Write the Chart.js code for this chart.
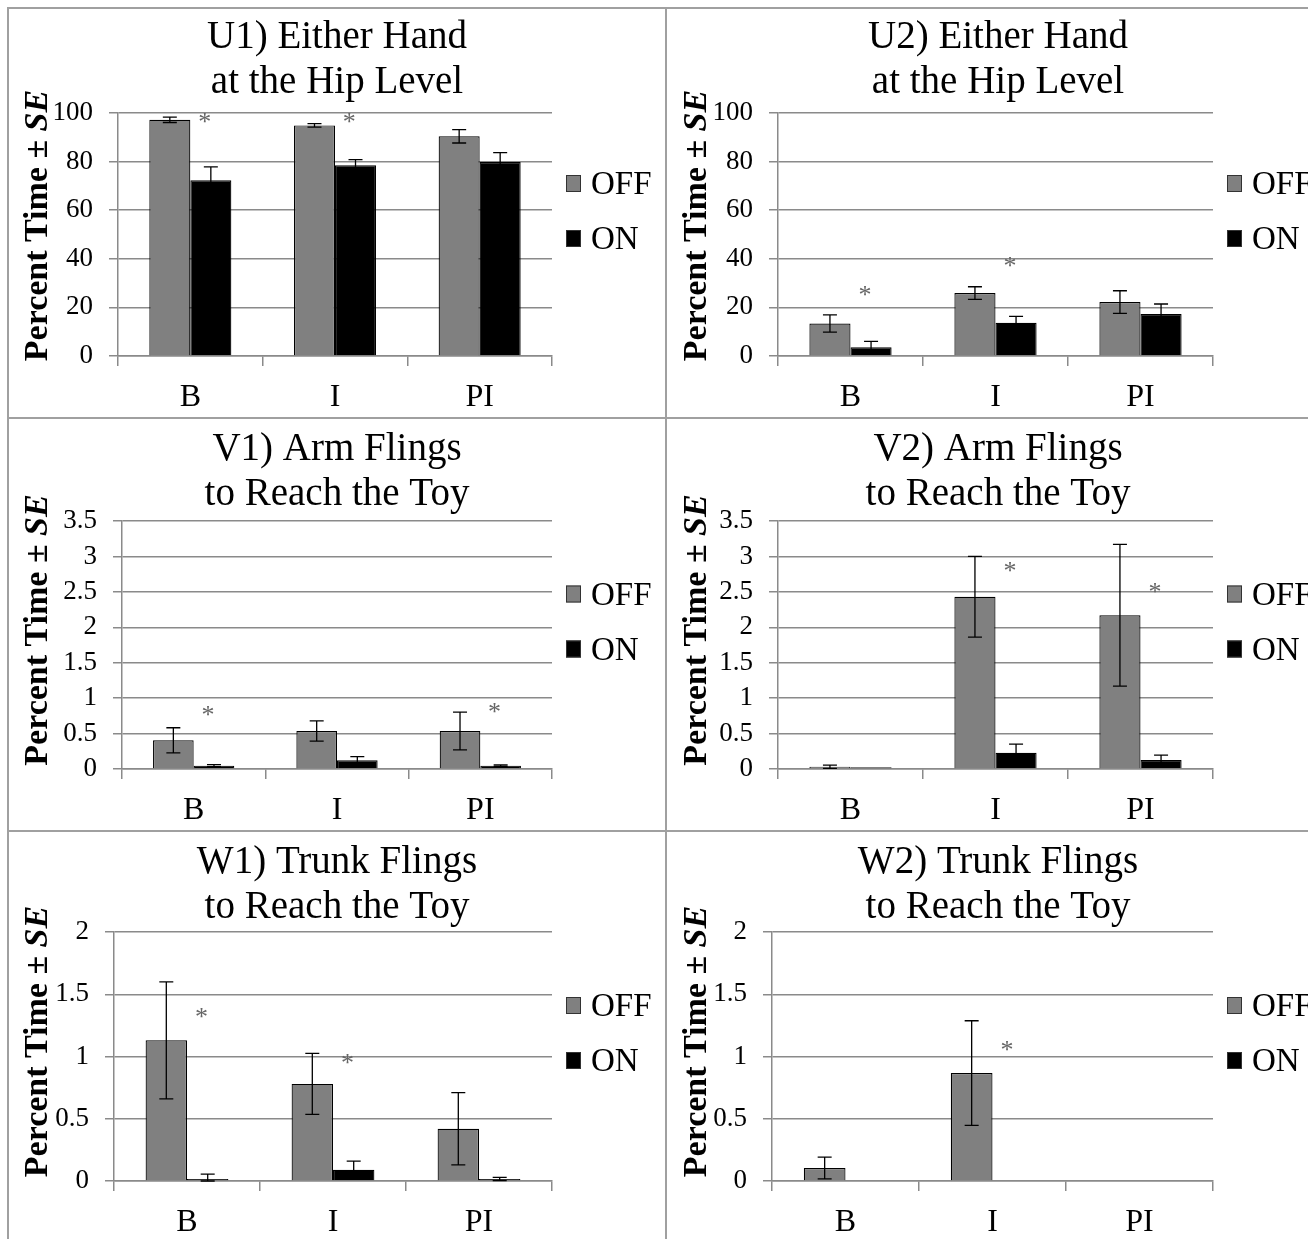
<!DOCTYPE html>
<html>
<head>
<meta charset="utf-8">
<script src="https://cdn.jsdelivr.net/npm/chart.js@4.4.1/dist/chart.umd.min.js"></script>
<style>
  html, body { margin: 0; padding: 0; background: #fff; overflow: hidden; }
  body { width: 1308px; height: 1239px; position: relative; }
  canvas { position: absolute; }
  .line { position: absolute; background: #a0a0a0; }
</style>
</head>
<body>
<div class="line" style="left:7px;top:7px;width:1301px;height:2px"></div>
<div class="line" style="left:7px;top:7px;width:2px;height:1232px"></div>
<div class="line" style="left:665px;top:7px;width:2px;height:1232px"></div>
<div class="line" style="left:7px;top:417px;width:1301px;height:2px"></div>
<div class="line" style="left:7px;top:830px;width:1301px;height:2px"></div>

<canvas id="u1" width="656" height="408" style="left:9px;top:9px;width:656px;height:408px"></canvas>
<canvas id="u2" width="660" height="408" style="left:668px;top:9px;width:660px;height:408px"></canvas>
<canvas id="v1" width="656" height="410" style="left:9px;top:420px;width:656px;height:410px"></canvas>
<canvas id="v2" width="660" height="410" style="left:668px;top:420px;width:660px;height:410px"></canvas>
<canvas id="w1" width="656" height="406" style="left:9px;top:833px;width:656px;height:406px"></canvas>
<canvas id="w2" width="660" height="406" style="left:668px;top:833px;width:660px;height:406px"></canvas>

<script>
// categories and series
const phases = ["B", "I", "PI"];
const seriesNames = ["OFF", "ON"];

// tick labels
const ticksU = [0, 20, 40, 60, 80, 100];
const ticksV = [0, 0.5, 1, 1.5, 2, 2.5, 3, 3.5];
const ticksW = [0, 0.5, 1, 1.5, 2];

// U1) Either Hand at the Hip Level
const u1Off = [97.2, 94.9, 90.4];
const u1OffSe = [1.1, 0.75, 2.75];
const u1On = [72.3, 78.5, 79.8];
const u1OnSe = [5.5, 2.3, 3.9];
const u1Stars = [98, 98, null];

// U2) Either Hand at the Hip Level
const u2Off = [13.4, 25.9, 22.2];
const u2OffSe = [3.55, 2.6, 4.65];
const u2On = [3.6, 13.7, 17.3];
const u2OnSe = [2.4, 2.6, 4.1];
const u2Stars = [27, 39, null];

// V1) Arm Flings to Reach the Toy
const v1Off = [0.405, 0.536, 0.536];
const v1OffSe = [0.177, 0.143, 0.266];
const v1On = [0.047, 0.122, 0.047];
const v1OnSe = [0.014, 0.052, 0.01];
const v1Stars = [0.83, null, 0.875];

// V2) Arm Flings to Reach the Toy
const v2Off = [0.033, 2.43, 2.17];
const v2OffSe = [0.023, 0.57, 1.0];
const v2On = [0.024, 0.23, 0.127];
const v2OnSe = [0, 0.12, 0.07];
const v2Stars = [null, 2.86, 2.56];

// W1) Trunk Flings to Reach the Toy
const w1Off = [1.13, 0.78, 0.42];
const w1OffSe = [0.47, 0.245, 0.29];
const w1On = [0.016, 0.09, 0.016];
const w1OnSe = [0.04, 0.07, 0.013];
const w1Stars = [1.35, 0.985, null];

// W2) Trunk Flings to Reach the Toy
const w2Off = [0.104, 0.867, 0];
const w2OffSe = [0.087, 0.42, 0];
const w2On = [0, 0, 0];
const w2OnSe = [0, 0, 0];
const w2Stars = [null, 1.09, null];

var serif = "'Liberation Serif', 'Times New Roman', serif";
var gridCol = "#8a8a8a";
var titleSize = 39, titleLH = 1.154;

// error bars, asterisks, legend and the y title
var extras = {
  id: "extras",
  afterDatasetsDraw: function(chart, args, opts) {
    var ctx = chart.ctx, y = chart.scales.y, area = chart.chartArea;
    ctx.save();

    chart.data.datasets.forEach(function(ds, i) {
      var meta = chart.getDatasetMeta(i);
      meta.data.forEach(function(bar, j) {
        var v = ds.data[j], e = ds.errors[j];
        if (!e) return;
        var top = y.getPixelForValue(v + e);
        var bot = y.getPixelForValue(Math.max(v - e, 0));
        ctx.strokeStyle = "#000";
        ctx.lineWidth = 1.3;
        ctx.beginPath();
        ctx.moveTo(bar.x, top); ctx.lineTo(bar.x, bot);
        ctx.moveTo(bar.x - 7, top); ctx.lineTo(bar.x + 7, top);
        ctx.moveTo(bar.x - 7, bot); ctx.lineTo(bar.x + 7, bot);
        ctx.stroke();
      });
    });

    var onMeta = chart.getDatasetMeta(1);
    ctx.fillStyle = "#666";
    ctx.font = "26px " + serif;
    ctx.textAlign = "center";
    ctx.textBaseline = "alphabetic";
    opts.stars.forEach(function(s, j) {
      if (s == null) return;
      var bar = onMeta.data[j];
      ctx.fillText("*", bar.x - bar.width * 0.15, y.getPixelForValue(s) + 12.5);
    });

    var cy = (area.top + area.bottom) / 2 - 51;
    chart.data.datasets.forEach(function(ds, i) {
      var by = cy + i * 55, bx = area.right + 14;
      ctx.fillStyle = ds.backgroundColor;
      ctx.fillRect(bx, by - 8.5, 15, 17);
      ctx.strokeStyle = "#333";
      ctx.lineWidth = 1;
      ctx.strokeRect(bx + 0.5, by - 8, 14, 16);
      ctx.fillStyle = "#000";
      ctx.font = "33px " + serif;
      ctx.textAlign = "left";
      ctx.fillText(ds.label, bx + 25, by + 10.5);
    });

    ctx.translate(38, (area.top + area.bottom) / 2 + opts.titleDy);
    ctx.rotate(-Math.PI / 2);
    var a = "Percent Time \u00b1 ", b = "SE";
    ctx.font = "bold 34px " + serif;
    var wa = ctx.measureText(a).width;
    ctx.font = "italic bold 34px " + serif;
    var wb = ctx.measureText(b).width;
    var x0 = -(wa + wb) / 2;
    ctx.fillStyle = "#000";
    ctx.font = "bold 34px " + serif;
    ctx.fillText(a, x0, 0);
    ctx.font = "italic bold 34px " + serif;
    ctx.fillText(b, x0 + wa, 0);
    ctx.restore();
  }
};

function makeChart(id, title, ticks, off, offSe, on, onSe, stars, box) {
  var canvas = document.getElementById(id);
  var W = canvas.width, H = canvas.height;
  var lh = titleSize * titleLH;
  new Chart(canvas, {
    type: "bar",
    data: {
      labels: phases,
      datasets: [
        { label: seriesNames[0], data: off, errors: offSe, backgroundColor: "#808080", borderColor: "#000", borderWidth: 1.2 },
        { label: seriesNames[1], data: on, errors: onSe, backgroundColor: "#000", borderColor: "#000", borderWidth: 1.2 }
      ]
    },
    options: {
      responsive: false,
      animation: false,
      devicePixelRatio: 1,
      layout: { padding: 0 },
      datasets: { bar: { categoryPercentage: 0.567, barPercentage: 1 } },
      plugins: {
        legend: { display: false },
        tooltip: { enabled: false },
        title: {
          display: true,
          text: title,
          color: "#000",
          font: { family: serif, size: titleSize, weight: "normal", lineHeight: titleLH },
          padding: { top: box.titleTop, bottom: box.top - box.titleTop - 2 * lh }
        },
        extras: { stars: stars, titleDy: box.titleDy }
      },
      scales: {
        x: {
          grid: { display: true, drawOnChartArea: false, drawTicks: true, tickLength: 10, color: gridCol, lineWidth: 1.5, offset: true },
          border: { display: true, color: gridCol, width: 1.5 },
          ticks: { color: "#000", padding: 12, font: { family: serif, size: 32 } },
          afterFit: function(s) { s.height = H - box.bottom; }
        },
        y: {
          min: ticks[0],
          max: ticks[ticks.length - 1],
          afterBuildTicks: function(s) { s.ticks = ticks.map(function(v) { return { value: v }; }); },
          ticks: { color: "#000", padding: 16, font: { family: serif, size: 27 }, callback: function(v) { return String(v); } },
          grid: { color: gridCol, lineWidth: 1.5, tickLength: 9 },
          border: { display: true, color: gridCol, width: 1.5 },
          afterFit: function(s) { s.width = box.left; }
        },
        // empty right-hand axis that only keeps room for the legend
        yLegend: {
          position: "right",
          display: true,
          grid: { display: false },
          border: { display: false },
          ticks: { display: false },
          afterFit: function(s) { s.width = W - box.right; }
        }
      }
    },
    plugins: [extras]
  });
}

makeChart("u1", ["U1) Either Hand", "at the Hip Level"], ticksU, u1Off, u1OffSe, u1On, u1OnSe, u1Stars,
  { left: 109, right: 543, top: 104, bottom: 347, titleTop: 6.5, titleDy: -9 });
makeChart("u2", ["U2) Either Hand", "at the Hip Level"], ticksU, u2Off, u2OffSe, u2On, u2OnSe, u2Stars,
  { left: 110, right: 545, top: 104, bottom: 347, titleTop: 6.5, titleDy: -9 });
makeChart("v1", ["V1) Arm Flings", "to Reach the Toy"], ticksV, v1Off, v1OffSe, v1On, v1OnSe, v1Stars,
  { left: 113, right: 543, top: 101, bottom: 349, titleTop: 7.5, titleDy: -15 });
makeChart("v2", ["V2) Arm Flings", "to Reach the Toy"], ticksV, v2Off, v2OffSe, v2On, v2OnSe, v2Stars,
  { left: 110, right: 545, top: 101, bottom: 349, titleTop: 7.5, titleDy: -15 });
makeChart("w1", ["W1) Trunk Flings", "to Reach the Toy"], ticksW, w1Off, w1OffSe, w1On, w1OnSe, w1Stars,
  { left: 105, right: 543, top: 99, bottom: 348, titleTop: 7.5, titleDy: -15 });
makeChart("w2", ["W2) Trunk Flings", "to Reach the Toy"], ticksW, w2Off, w2OffSe, w2On, w2OnSe, w2Stars,
  { left: 104, right: 545, top: 99, bottom: 348, titleTop: 7.5, titleDy: -15 });
</script>
</body>
</html>
